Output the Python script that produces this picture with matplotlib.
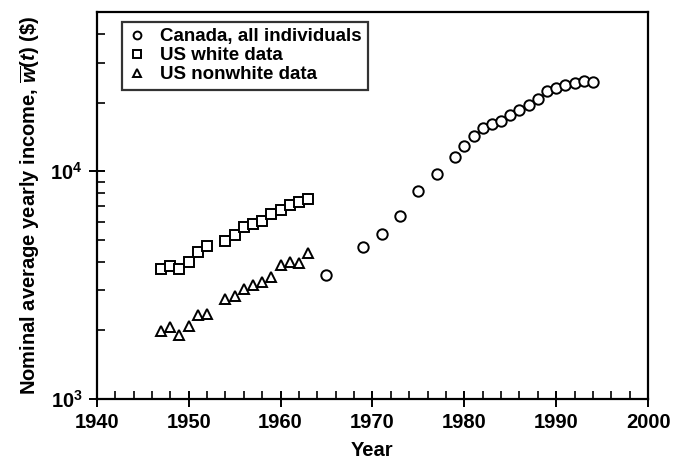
import matplotlib.pyplot as plt
from matplotlib.ticker import MultipleLocator, LogLocator, NullFormatter

plt.rcParams['font.family'] = ['Liberation Sans', 'DejaVu Sans']
plt.rcParams['mathtext.fontset'] = 'custom'
plt.rcParams['mathtext.it'] = 'Liberation Sans:italic:bold'
plt.rcParams['mathtext.rm'] = 'Liberation Sans:bold'

# Canada, all individuals
ca_years = [1965, 1969, 1971, 1973, 1975, 1977, 1979, 1980, 1981, 1982, 1983,
            1984, 1985, 1986, 1987, 1988, 1989, 1990, 1991, 1992, 1993, 1994]
ca_income = [3510, 4650, 5300, 6340, 8170, 9700, 11500, 12900, 14250, 15500, 16150,
             16700, 17600, 18550, 19450, 20800, 22500, 23300, 24000, 24500, 24800, 24650]

# US white / nonwhite
us_years = [1947, 1948, 1949, 1950, 1951, 1952, 1954, 1955, 1956, 1957, 1958,
            1959, 1960, 1961, 1962, 1963]
us_white = [3730, 3850, 3720, 3980, 4400, 4680, 4950, 5270, 5690, 5850, 6030,
            6500, 6780, 7070, 7300, 7560]
us_nonwhite = [1990, 2070, 1910, 2090, 2340, 2365, 2750, 2840, 3040, 3170, 3250,
               3430, 3890, 3980, 3950, 4380]

fig = plt.figure(figsize=(6.91, 4.67), dpi=100)
ax = fig.add_axes([0.140, 0.146, 0.798, 0.828])

mk = dict(linestyle='none', markerfacecolor='white', markeredgecolor='black',
          markeredgewidth=1.4)
ax.plot(ca_years, ca_income, marker='o', markersize=7.5, label='Canada, all individuals', **mk)
ax.plot(us_years, us_white, marker='s', markersize=7, label='US white data', **mk)
ax.plot(us_years, us_nonwhite, marker='^', markersize=7, label='US nonwhite data', **mk)

ax.set_yscale('log')
ax.set_xlim(1940, 2000)
ax.set_ylim(1000, 50000)
ax.xaxis.set_major_locator(MultipleLocator(10))
ax.xaxis.set_minor_locator(MultipleLocator(2))
ax.yaxis.set_major_locator(LogLocator(base=10))
ax.yaxis.set_minor_locator(LogLocator(base=10, subs=range(2, 10)))
ax.yaxis.set_minor_formatter(NullFormatter())

for s in ax.spines.values():
    s.set_linewidth(1.6)
ax.tick_params(which='major', direction='inout', length=12, width=1.4,
               labelsize=14.5, top=False, right=False, pad=4)
ax.tick_params(which='minor', direction='in', length=6, width=1.2,
               top=False, right=False)
for lab in ax.get_xticklabels() + ax.get_yticklabels():
    lab.set_fontweight('bold')

ax.set_xlabel('Year', fontsize=14.5, fontweight='bold', labelpad=7)
ax.set_ylabel(r'Nominal average yearly income, $\overline{w}(t)$ (\$)',
              fontsize=14.5, fontweight='bold', labelpad=6)

leg = ax.legend(loc='upper left', bbox_to_anchor=(0.045, 0.975), frameon=True,
                fancybox=False, borderpad=0.35, handletextpad=0.7,
                labelspacing=0.1, handlelength=1.0, borderaxespad=0,
                markerscale=0.75, prop={'size': 13.5, 'weight': 'bold'})
leg.get_frame().set_edgecolor('black')
leg.get_frame().set_linewidth(1.6)

fig.savefig('out.png', dpi=100)
